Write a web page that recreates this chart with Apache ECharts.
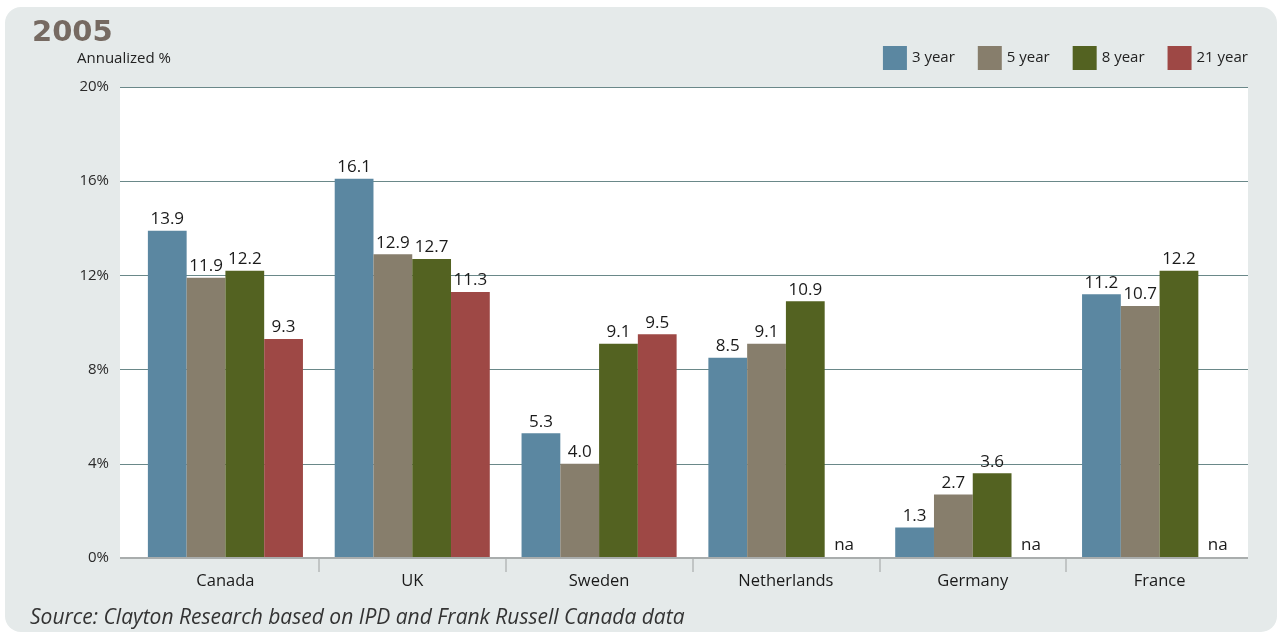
<!DOCTYPE html>
<html>
<head>
<meta charset="utf-8">
<script src="https://cdn.jsdelivr.net/npm/echarts@6/dist/echarts.min.js"></script>
<style>
  html, body { margin: 0; padding: 0; background: #ffffff; }
  #panel {
    position: absolute; left: 5px; top: 7px; width: 1272px; height: 625px;
    background: #e5eaea; border-radius: 16px;
  }
  #chart { position: absolute; left: 0; top: 0; width: 1282px; height: 637px; }
</style>
</head>
<body>
<div id="panel"></div>
<div id="chart"></div>
<script>
const countries = ['Canada', 'UK', 'Sweden', 'Netherlands', 'Germany', 'France']
const year3 = [13.9, 16.1, 5.3, 8.5, 1.3, 11.2]
const year5 = [11.9, 12.9, 4.0, 9.1, 2.7, 10.7]
const year8 = [12.2, 12.7, 9.1, 10.9, 3.6, 12.2]
const year21 = [9.3, 11.3, 9.5, null, null, null]
const yTicks = [0, 4, 8, 12, 16, 20]

const colors = ['#5b87a1', '#877e6c', '#536221', '#9e4845']
const font = '"Open Sans", "Noto Sans", sans-serif'

// missing values get a flat bar with an "na" label at the bottom
const toData = (arr) => arr.map((v) =>
  v === null ? { value: 0, label: { formatter: 'na', position: 'insideBottom', distance: 4 } } : v)

const makeSeries = (name, arr, i) => ({
  name: name,
  type: 'bar',
  xAxisIndex: 1,
  yAxisIndex: 1,
  data: toData(arr),
  barGap: '0%',
  barCategoryGap: '17%',
  itemStyle: { color: colors[i] },
  label: {
    show: true,
    position: 'top',
    distance: 3,
    color: '#1a1a1a',
    fontSize: 17,
    fontFamily: font,
    formatter: (p) => p.value.toFixed(1)
  }
})

const chart = echarts.init(document.getElementById('chart'))
chart.setOption({
  animation: false,
  title: [
    {
      text: '2005', left: 27, top: 14,
      textStyle: { color: '#766a62', fontSize: 29, fontWeight: 'bold', fontFamily: '"DejaVu Sans", sans-serif', letterSpacing: 1 }
    },
    {
      text: 'Annualized %', left: 72, top: 46,
      textStyle: { color: '#222', fontSize: 15, fontWeight: 'normal', fontFamily: font }
    },
    {
      text: 'Source: Clayton Research based on IPD and Frank Russell Canada data', left: 25, top: 603,
      textStyle: { color: '#333', fontSize: 21, fontWeight: 'normal', fontStyle: 'italic', fontFamily: font }
    }
  ],
  legend: {
    right: 29, top: 41,
    itemWidth: 24, itemHeight: 24, itemGap: 23,
    icon: 'rect',
    textStyle: { color: '#222', fontSize: 15, fontFamily: font, padding: [0, 0, 0, 0] },
    data: ['3 year', '5 year', '8 year', '21 year']
  },
  grid: [
    { left: 120, width: 1128, top: 87, height: 471, show: true, backgroundColor: '#ffffff', borderWidth: 0 },
    { left: 132, width: 1121, top: 87, height: 471 },
    { left: 319, width: 747, top: 87, height: 471 }
  ],
  xAxis: [
    { type: 'category', gridIndex: 0, data: countries, show: false },
    {
      type: 'category', gridIndex: 1, data: countries,
      axisLine: { show: false },
      axisTick: { show: false },
      axisLabel: { color: '#1a1a1a', fontSize: 16.5, fontFamily: font, margin: 15 }
    },
    {
      // separators between the country groups
      type: 'category', gridIndex: 2, data: countries.slice(1).map(() => ''),
      boundaryGap: false,
      axisLine: { show: false },
      axisLabel: { show: false },
      axisTick: { show: true, interval: 0, length: 14, lineStyle: { color: '#b5b9b9', width: 1.5 } }
    }
  ],
  yAxis: [
    {
      type: 'value', gridIndex: 0, min: yTicks[0], max: yTicks[yTicks.length - 1], interval: 4,
      axisLine: { show: false }, axisTick: { show: false },
      axisLabel: { color: '#2a2a2a', fontSize: 15, fontFamily: font, margin: 11, formatter: '{value}%' },
      splitLine: { lineStyle: { color: '#6a8889', width: 1 } }
    },
    {
      type: 'value', gridIndex: 1, min: yTicks[0], max: yTicks[yTicks.length - 1], interval: 4,
      show: false, splitLine: { show: false }
    },
    { type: 'value', gridIndex: 2, min: 0, max: 20, show: false, splitLine: { show: false } }
  ],
  series: [
    makeSeries('3 year', year3, 0),
    makeSeries('5 year', year5, 1),
    makeSeries('8 year', year8, 2),
    makeSeries('21 year', year21, 3),
    {
      type: 'line', xAxisIndex: 0, yAxisIndex: 0, data: [], silent: true,
      markLine: {
        silent: true, symbol: 'none', label: { show: false },
        lineStyle: { color: '#a9adad', width: 2, type: 'solid' },
        data: [{ yAxis: 0 }]
      }
    }
  ]
})

window.addEventListener('resize', () => chart.resize())
</script>
</body>
</html>
